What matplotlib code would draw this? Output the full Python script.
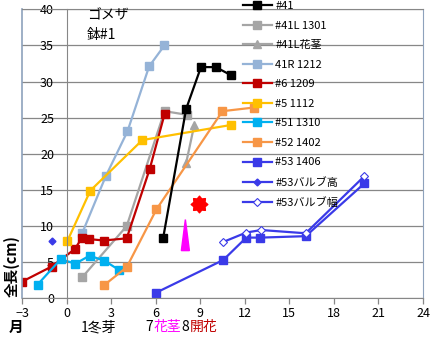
import matplotlib
matplotlib.use("Agg")
import matplotlib.pyplot as plt
import numpy as np
from matplotlib.patches import Polygon
from matplotlib.path import Path

plt.rcParams['font.family'] = ['Noto Sans CJK JP', 'DejaVu Sans']

# growth records (months vs total length in cm)
x41 = [6.5, 8.05, 9.05, 10.05, 11.05]
y41 = [8.3, 26.2, 32.0, 32.0, 30.9]
x41l = [1.05, 4.05, 6.6, 8.1]
y41l = [2.9, 10.0, 25.9, 25.4]
x41l_stem = [8.05, 8.6]
y41l_stem = [18.7, 24.0]
x41r = [1.07, 2.64, 4.1, 5.56, 6.59]
y41r = [9.1, 16.9, 23.1, 32.1, 35.0]
x6 = [-3.0, -1.0, 0.55, 1.05, 1.5, 2.5, 4.05, 5.6, 6.6]
y6 = [2.3, 4.4, 6.8, 8.4, 8.2, 8.0, 8.3, 17.9, 25.5]
x5 = [0.05, 1.6, 5.1, 11.1]
y5 = [7.9, 14.9, 21.9, 24.0]
x51 = [-1.95, -0.4, 0.6, 1.55, 2.55, 3.55]
y51 = [1.9, 5.4, 4.8, 5.9, 5.2, 3.9]
x52 = [2.55, 4.05, 6.05, 10.5, 12.6]
y52 = [1.85, 4.3, 12.3, 25.9, 26.4]
x53 = [6.05, 10.55, 12.1, 13.05, 16.1, 20.05]
y53 = [0.8, 5.3, 8.4, 8.4, 8.6, 15.9]
x53_h = [-1.0]
y53_h = [8.0]
x53_w = [10.55, 12.1, 13.1, 16.1, 20.05]
y53_w = [7.8, 9.1, 9.45, 9.0, 16.9]

# flower stalk / flowering markers
stalk_x, stalk_y0, stalk_y1 = 8.0, 6.6, 10.9
bloom_x, bloom_y = 8.95, 13.1

xticks = list(range(-3, 25, 3))
yticks = list(range(0, 41, 5))

# round flower shape: 8 bumps
ang = np.linspace(0, 2 * np.pi, 17)[:-1] + np.pi / 2
rad = np.where(np.arange(16) % 2 == 0, 1.0, 0.72)
verts = np.column_stack([rad * np.cos(ang), rad * np.sin(ang)])
flower = Path(np.vstack([verts, verts[:1]]), closed=True)

fig = plt.figure(figsize=(4.39, 3.41), dpi=100)
ax = fig.add_axes([22 / 439, 42.7 / 341, 401 / 439, 289 / 341])

blue = '#3a3ae8'
ms = 5.5
ax.plot(x41, y41, color='black', lw=1.6, marker='s', ms=ms, label='#41', zorder=6)
ax.plot(x41l, y41l, color='#a5a5a5', lw=1.6, marker='s', ms=ms, label='#41L 1301')
ax.plot(x41l_stem, y41l_stem, color='#a5a5a5', lw=1.6, marker='^', ms=ms, label='#41L花茎')
ax.plot(x41r, y41r, color='#95b3d7', lw=1.6, marker='s', ms=ms, label='41R 1212')
ax.plot(x6, y6, color='#c00000', lw=1.6, marker='s', ms=ms, label='#6 1209')
ax.plot(x5, y5, color='#ffc000', lw=1.6, marker='s', ms=ms, label='#5 1112')
ax.plot(x51, y51, color='#00b0f0', lw=1.6, marker='s', ms=ms, label='#51 1310')
ax.plot(x52, y52, color='#f79646', lw=1.6, marker='s', ms=ms, label='#52 1402')
ax.plot(x53, y53, color=blue, lw=1.6, marker='s', ms=ms, label='#53 1406')
ax.plot(x53_h, y53_h, color=blue, lw=1.6, marker='D', ms=3.5, label='#53バルブ高')
ax.plot(x53_w, y53_w, color=blue, lw=1.6, marker='D', ms=4, mfc='white',
        mec=blue, mew=0.8, label='#53バルブ幅')

# magenta spike for the flower stalk, red flower for blooming
ax.add_patch(Polygon([(stalk_x - 0.27, stalk_y0), (stalk_x + 0.27, stalk_y0),
                      (stalk_x, stalk_y1)], closed=True, color='#ff00ff', zorder=7))
ax.plot([bloom_x], [bloom_y], marker=flower, ms=12, color='#ff0000', zorder=7)

ax.set_xlim(-3, 24)
ax.set_ylim(0, 40)
ax.set_xticks(xticks)
ax.set_yticks(yticks)
ax.grid(axis='y', color='#878787', lw=0.9)
ax.set_axisbelow(True)

ax.spines['left'].set_position(('data', 0))
ax.spines['left'].set_color('#878787')
ax.spines['bottom'].set_color('#878787')
ax.spines['right'].set_color('#8ea2bc')
ax.spines['top'].set_color('#878787')
ax.axvline(-3, color='#8ea2bc', lw=1.2, clip_on=False)
ax.tick_params(axis='y', length=0, pad=9, labelsize=9)
ax.tick_params(axis='x', length=4, width=0.9, color='#878787', pad=2, labelsize=9)

ax.legend(loc='upper left', bbox_to_anchor=(243 / 439, 1 - 1 / 341),
          bbox_transform=fig.transFigure, frameon=False, fontsize=8,
          borderpad=0, borderaxespad=0, handlelength=2.6, handletextpad=0.3,
          labelspacing=0.86)

fig.text(87 / 439, 1 - 15 / 341, 'ゴメザ', fontsize=10, va='center')
fig.text(87 / 439, 1 - 35 / 341, '鉢#1', fontsize=10, va='center')
fig.text(12 / 439, 1 - 266 / 341, '全長(cm)', fontsize=10.5, fontweight='bold',
         rotation=90, ha='center', va='center')
fig.text(16 / 439, 1 - 327 / 341, '月', fontsize=10.5, fontweight='bold',
         ha='center', va='center')
fig.text(81 / 439, 1 - 327 / 341, '1冬芽', fontsize=10, va='center')

# month markers along the bottom, each piece placed right after the previous one
fs = 10
t = fig.text(145 / 439, 1 - 327 / 341, '7', fontsize=fs, va='center')
for s, c in [('花茎', '#ff00ff'), ('8', 'black'), ('開花', '#c00000')]:
    t = ax.annotate(s, xy=(1, 0.5), xycoords=t, xytext=(0.5, 0),
                    textcoords='offset points', fontsize=fs, color=c,
                    ha='left', va='center', annotation_clip=False)

fig.savefig('out.png', dpi=100)
